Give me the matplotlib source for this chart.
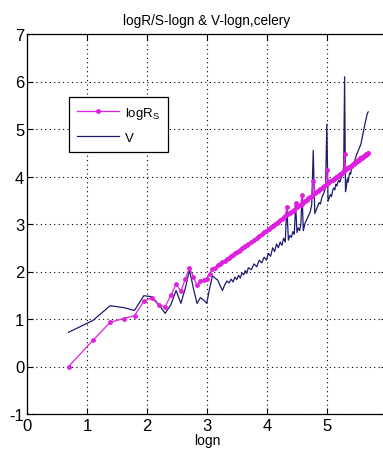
import numpy as np
import matplotlib
matplotlib.use("Agg")
import matplotlib.pyplot as plt

# ---- data -------------------------------------------------------------
n_vals = [2, 3, 4, 5, 6, 7, 8, 9, 10, 11, 12, 13, 14, 15, 16, 17, 18, 19, 20,
          21, 22, 23, 24, 25, 26, 27, 28, 29, 30, 31, 32, 33, 34, 35, 36, 37,
          38, 39, 40, 42, 44, 46, 48, 50, 52, 54, 56, 58, 60, 62, 64, 66, 68,
          70, 72, 74, 76, 78, 80, 82, 84, 86, 88, 90, 92, 94, 96, 98, 100,
          103, 106, 109, 112, 115, 118, 121, 124, 127, 130, 133, 136, 139,
          142, 145, 148, 151, 154, 157, 160, 163, 166, 169, 172, 175, 178,
          181, 184, 187, 190, 193, 196, 199, 202, 205, 208, 211, 214, 217,
          220, 223, 226, 229, 232, 235, 238, 241, 244, 247, 250, 253, 256,
          259, 262, 265, 268, 271, 274, 277, 280, 283, 286, 289, 292, 295]

logRS = [0.00, 0.55, 0.93, 1.01, 1.07, 1.37, 1.45, 1.29, 1.26, 1.50, 1.73,
         1.58, 1.85, 2.08, 1.89, 1.71, 1.79, 1.82, 1.85, 1.95, 2.05, 2.08,
         2.14, 2.16, 2.20, 2.23, 2.26, 2.29, 2.32, 2.35, 2.38, 2.41, 2.43,
         2.46, 2.49, 2.51, 2.54, 2.56, 2.58, 2.63, 2.67, 2.71, 2.75, 2.79,
         2.83, 2.86, 2.90, 2.93, 2.96, 3.00, 3.03, 3.05, 3.08, 3.11, 3.14,
         3.16, 3.35, 3.21, 3.24, 3.26, 3.28, 3.30, 3.45, 3.35, 3.37, 3.39,
         3.41, 3.62, 3.45, 3.48, 3.51, 3.54, 3.57, 3.60, 3.90, 3.65, 3.67,
         3.69, 3.72, 3.74, 3.76, 3.78, 3.80, 3.82, 4.13, 3.86, 3.88, 3.90,
         3.92, 3.93, 3.95, 3.97, 3.98, 4.00, 4.02, 4.03, 4.05, 4.06, 4.08,
         4.09, 4.11, 4.47, 4.14, 4.15, 4.17, 4.18, 4.19, 4.21, 4.22, 4.23,
         4.25, 4.26, 4.27, 4.28, 4.30, 4.31, 4.32, 4.33, 4.34, 4.35, 4.36,
         4.38, 4.39, 4.40, 4.41, 4.42, 4.43, 4.44, 4.45, 4.46, 4.47, 4.48,
         4.49, 4.50]

V = [0.72, 0.97, 1.28, 1.24, 1.18, 1.49, 1.47, 1.30, 1.12, 1.30, 1.60,
     1.33, 1.65, 2.03, 1.65, 1.33, 1.45, 1.40, 1.33, 1.65, 1.91, 1.86,
     1.82, 1.70, 1.60, 1.72, 1.80, 1.76, 1.84, 1.78, 1.88, 1.83, 1.92,
     1.86, 1.97, 1.93, 2.02, 1.96, 2.08, 2.04, 2.16, 2.10, 2.24, 2.18,
     2.30, 2.24, 2.38, 2.32, 2.50, 2.42, 2.58, 2.50, 2.62, 2.55, 2.70,
     2.62, 3.37, 2.66, 2.76, 2.72, 2.84, 2.78, 3.39, 2.82, 2.92, 2.86,
     3.00, 3.62, 2.86, 3.02, 3.10, 3.18, 3.25, 3.40, 4.55, 3.22, 3.30,
     3.38, 3.45, 3.42, 3.55, 3.62, 3.68, 3.80, 5.10, 3.48, 3.55, 3.62,
     3.58, 3.70, 3.76, 3.72, 3.84, 3.80, 3.88, 3.92, 3.88, 3.96, 4.00,
     4.10, 4.20, 6.10, 3.68, 3.80, 3.95, 3.88, 4.00, 4.08, 4.05, 4.15,
     4.20, 4.18, 4.28, 4.32, 4.38, 4.42, 4.48, 4.50, 4.55, 4.58, 4.62,
     4.65, 4.70, 4.78, 4.85, 4.92, 4.98, 5.05, 5.12, 5.18, 5.24, 5.30,
     5.34, 5.36]

x_ticks = [0, 1, 2, 3, 4, 5, 6]
y_ticks = [-1, 0, 1, 2, 3, 4, 5, 6, 7]

title_text = "logR/S-logn & V-logn,celery"
xlabel_text = "logn"
label_rs = r"logR$_\mathregular{S}$"
label_v = "V"

# ---- style ------------------------------------------------------------
fam = ["Liberation Sans", "DejaVu Sans"]
plt.rcParams["font.family"] = fam
plt.rcParams["mathtext.fontset"] = "custom"
plt.rcParams["mathtext.rm"] = fam[0]
plt.rcParams["mathtext.it"] = fam[0]
plt.rcParams["axes.unicode_minus"] = False

fig = plt.figure(figsize=(3.83, 4.52), dpi=100)
ax = fig.add_axes([27 / 383, 37 / 452, 360 / 383, 380 / 452])

logn = np.log(np.array(n_vals, dtype=float))

ax.plot(logn, logRS, color="#e020e0", lw=0.9, marker="o", ms=2.8,
        markeredgewidth=0.6, label=label_rs, zorder=3)
ax.plot(logn, V, color="#1c1c70", lw=0.9, label=label_v, zorder=2)

ax.set_xlim(0, 6)
ax.set_ylim(-1, 7)
ax.set_xticks(x_ticks)
ax.set_yticks(y_ticks)
ax.tick_params(direction="in", length=4, width=0.8, labelsize=12,
               top=True, right=True, pad=3)
ax.tick_params(axis="y", pad=2)
ax.grid(True, linestyle=(0, (1, 3)), color="black", linewidth=0.8)
for s in ax.spines.values():
    s.set_linewidth(0.9)

ax.set_title(title_text, fontsize=9.8, pad=7)
ax.set_xlabel(xlabel_text, fontsize=10, labelpad=0)

leg = ax.legend(loc="upper left", bbox_to_anchor=(0.117, 0.834),
                fontsize=9.5, frameon=True, fancybox=False, framealpha=1,
                edgecolor="black", borderpad=0.6, handlelength=3.2,
                handletextpad=0.4, labelspacing=0.8, borderaxespad=0)
leg.get_frame().set_linewidth(0.9)

fig.savefig("out.png", dpi=100)
